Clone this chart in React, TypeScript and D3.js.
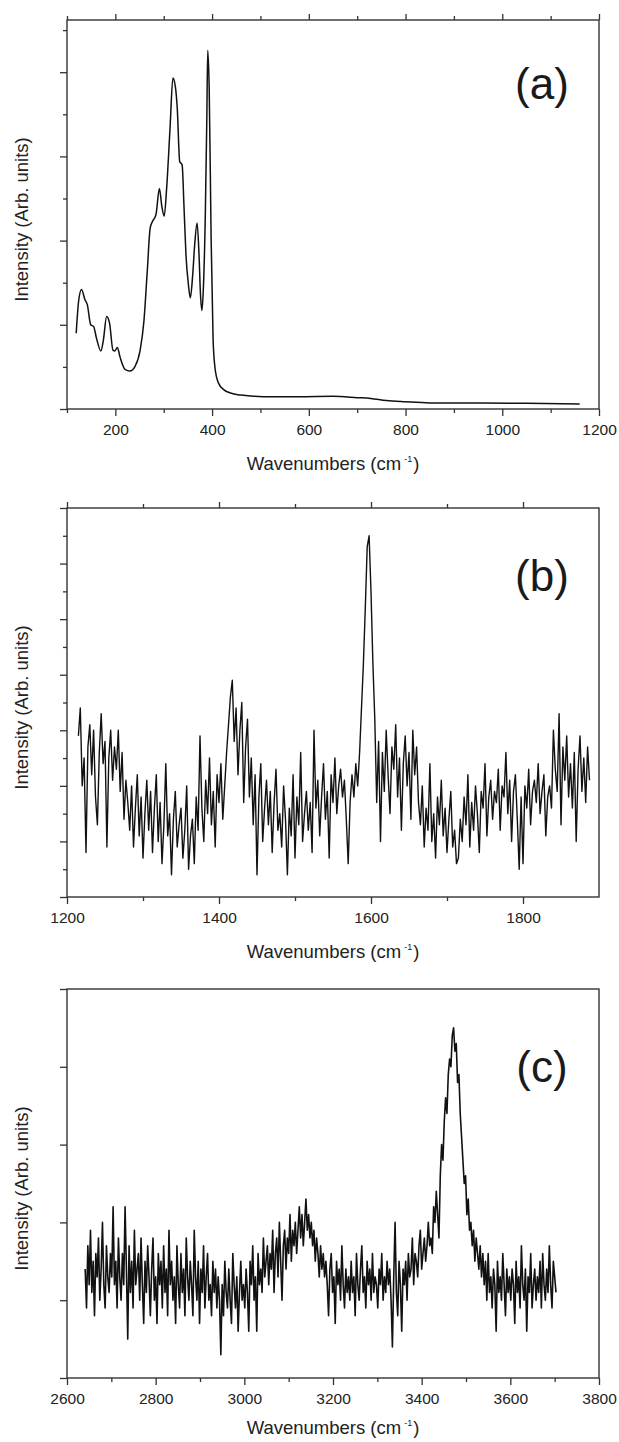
import React, { useEffect, useRef } from 'react';
import * as d3 from 'd3';

// (a) low wavenumber region, smooth spectrum
const aWave = [119, 124, 130, 137, 142, 149, 155, 161, 170, 175, 182, 188, 195, 199, 204, 210, 220, 230, 241, 251,
  259, 266, 272, 277, 284, 291, 296, 301, 306, 313, 319, 324, 328, 333, 338, 342, 346, 351, 355, 360,
  364, 369, 373, 376, 379, 382, 386, 389, 391, 394, 398, 402, 406, 413, 424, 438, 458, 480, 520, 580,
  650, 700, 728, 760, 800, 850, 950, 1050, 1160];
const aInt = [0.90, 1.28, 1.42, 1.30, 1.24, 1.00, 0.98, 0.84, 0.69, 0.81, 1.10, 1.02, 0.70, 0.69, 0.73, 0.61, 0.47, 0.45, 0.51, 0.69,
  1.04, 1.64, 2.15, 2.23, 2.31, 2.62, 2.41, 2.29, 2.62, 3.33, 3.93, 3.83, 3.57, 2.94, 2.90, 2.39, 1.83, 1.48, 1.32, 1.60,
  1.95, 2.21, 1.83, 1.36, 1.17, 1.44, 2.31, 3.41, 4.26, 3.81, 2.03, 0.84, 0.49, 0.31, 0.23, 0.19, 0.165, 0.155, 0.145, 0.145,
  0.15, 0.135, 0.125, 0.10, 0.085, 0.072, 0.07, 0.068, 0.06];

// (b) 1215 - 1887.5 cm-1, sampled every 2.5 cm-1, intensity in tenths
const bStart = 1215;
const bStep = 2.5;
const bInt = [
  29, 34, 20, 25, 8, 27, 31, 22, 30, 18, 13, 26, 33, 24, 28, 9, 25, 30, 21, 27,
  23, 30, 19, 26, 14, 21, 17, 12, 20, 9, 16, 22, 11, 18, 7, 15, 21, 12, 19, 8,
  16, 22, 10, 17, 6, 13, 24, 11, 15, 4, 14, 19, 9, 13, 16, 7, 12, 20, 5, 11,
  14, 6, 18, 12, 29, 16, 10, 21, 15, 25, 13, 19, 9, 22, 17, 24, 14, 20, 26, 31,
  36, 39, 28, 34, 22, 30, 35, 17, 27, 32, 18, 25, 13, 22, 4, 18, 24, 10, 16, 21,
  13, 19, 8, 17, 23, 12, 15, 9, 20, 14, 4, 16, 11, 22, 7, 18, 13, 26, 10, 15,
  19, 12, 17, 8, 30, 16, 21, 11, 18, 24, 14, 19, 7, 22, 17, 25, 15, 20, 23, 18,
  21, 14, 6, 17, 22, 18, 24, 20, 26, 34, 42, 52, 63, 65, 55, 42, 32, 17, 28, 10,
  26, 19, 30, 22, 15, 27, 23, 31, 18, 25, 12, 24, 29, 20, 26, 14, 30, 22, 27, 17,
  13, 20, 9, 16, 12, 24, 10, 15, 7, 18, 13, 21, 11, 16, 8, 14, 19, 9, 12, 6,
  7, 14, 10, 18, 13, 22, 9, 17, 12, 20, 15, 8, 19, 16, 24, 11, 18, 21, 14, 19,
  17, 23, 12, 20, 18, 26, 15, 21, 10, 19, 22, 14, 5, 18, 6, 20, 16, 23, 13, 19,
  21, 17, 24, 15, 19, 22, 11, 18, 20, 16, 30, 23, 19, 33, 13, 27, 21, 29, 18, 24,
  16, 26, 10, 23, 29, 19, 25, 17, 27, 21];

// (c) 2641 - 3703 cm-1, sampled every 3 cm-1, intensity in tenths
const cStart = 2641;
const cStep = 3;
const cInt = [
  14, 9, 17, 12, 19, 11, 15, 8, 16, 13, 18, 10, 14, 20, 12, 9, 17, 13, 11, 16,
  13, 22, 12, 15, 9, 18, 13, 10, 16, 12, 22, 14, 5, 17, 11, 15, 9, 19, 12, 14,
  16, 10, 18, 12, 7, 15, 11, 17, 13, 8, 14, 18, 10, 13, 7, 16, 12, 15, 9, 17,
  11, 14, 8, 19, 12, 15, 10, 13, 7, 17, 12, 9, 16, 11, 14, 8, 18, 13, 10, 15,
  12, 8, 19, 13, 10, 15, 7, 14, 11, 17, 9, 13, 16, 10, 12, 8, 15, 11, 14, 9,
  13, 10, 3, 12, 8, 15, 11, 9, 14, 10, 7, 16, 12, 9, 13, 6, 11, 15, 10, 12,
  9, 14, 11, 6, 15, 12, 17, 10, 13, 6, 16, 12, 14, 11, 18, 13, 15, 17, 12, 16,
  14, 19, 11, 16, 18, 13, 20, 15, 10, 17, 19, 14, 18, 16, 21, 15, 19, 17, 20, 16,
  19, 22, 18, 21, 17, 20, 23, 19, 21, 18, 20, 17, 19, 15, 18, 16, 13, 17, 14, 16,
  13, 15, 12, 8, 14, 16, 11, 13, 7, 15, 12, 14, 10, 17, 12, 9, 14, 11, 13, 10,
  15, 11, 13, 8, 16, 12, 10, 14, 17, 11, 13, 9, 15, 12, 14, 10, 16, 11, 13, 12,
  9, 14, 12, 16, 10, 13, 11, 15, 12, 14, 10, 4, 13, 20, 11, 8, 15, 12, 6, 14,
  12, 15, 10, 16, 13, 14, 18, 12, 16, 15, 13, 17, 19, 14, 16, 18, 15, 17, 20, 17,
  18, 16, 22, 20, 24, 21, 18, 26, 30, 28, 33, 36, 34, 39, 41, 40, 44, 45, 42, 43,
  38, 39, 34, 31, 28, 25, 26, 21, 23, 19, 20, 17, 19, 15, 18, 16, 14, 17, 13, 16,
  12, 15, 10, 16, 11, 13, 9, 14, 12, 6, 15, 11, 13, 10, 16, 12, 8, 14, 11, 13,
  10, 14, 12, 7, 15, 11, 13, 9, 17, 12, 10, 14, 6, 13, 11, 16, 9, 12, 14, 10,
  13, 11, 15, 9, 16, 12, 10, 14, 11, 17, 12, 9, 15, 13, 11];

// tick values
const aMajor = [200, 400, 600, 800, 1000, 1200];
const aMinor = [100, 300, 500, 700, 900, 1100];
const aYMajor = [0, 1, 2, 3, 4];
const aYMinor = [0.5, 1.5, 2.5, 3.5, 4.5];
const bMajor = [1200, 1400, 1600, 1800];
const bMinor = [1300, 1500, 1700];
const bYMajor = [0, 10, 20, 30, 40, 50, 60, 70];
const bYMinor = [5, 15, 25, 35, 45, 55, 65];
const cMajor = [2600, 2800, 3000, 3200, 3400, 3600, 3800];
const cMinor = [2700, 2900, 3100, 3300, 3500, 3700];
const cYMajor = [0, 10, 20, 30, 40, 50];

const W = 619;
const H = 1442;
const LEFT = 67;
const RIGHT = 599;
const FONT = 'Arial, "Liberation Sans", Helvetica, sans-serif';
const AXIS = '#333';

const App = () => {
  const ref = useRef<SVGSVGElement>(null);

  useEffect(() => {
    const svg = d3.select(ref.current);
    svg.selectAll('*').remove();

    const panels = [
      {
        top: 20, bottom: 409, xDomain: [100, 1200], yDomain: [0, 4.62],
        xMajor: aMajor, xMinor: aMinor, yMajor: aYMajor, yMinor: aYMinor, topTicks: true,
        data: aWave.map((w, i) => [w, aInt[i]]), curve: d3.curveMonotoneX, width: 1.5,
        label: '(a)', labelY: 99, titleY: 470,
      },
      {
        top: 508, bottom: 897, xDomain: [1200, 1900], yDomain: [0, 70],
        xMajor: bMajor, xMinor: bMinor, yMajor: bYMajor, yMinor: bYMinor, topTicks: true,
        data: bInt.map((v, i) => [bStart + i * bStep, v]), curve: d3.curveLinear, width: 1.4,
        label: '(b)', labelY: 591, titleY: 958,
      },
      {
        top: 989, bottom: 1378, xDomain: [2600, 3800], yDomain: [0, 50],
        xMajor: cMajor, xMinor: cMinor, yMajor: cYMajor, yMinor: [], topTicks: false,
        data: cInt.map((v, i) => [cStart + i * cStep, v]), curve: d3.curveLinear, width: 1.6,
        label: '(c)', labelY: 1082, titleY: 1434,
      },
    ];

    panels.forEach((p) => {
      const x = d3.scaleLinear().domain(p.xDomain).range([LEFT, RIGHT]);
      const y = d3.scaleLinear().domain(p.yDomain).range([p.bottom, p.top]);
      const g = svg.append('g');

      const styleAxis = (sel) => {
        sel.select('.domain').remove();
        sel.selectAll('line').attr('stroke', AXIS).attr('stroke-width', 1.3);
        sel.selectAll('text').attr('font-family', FONT).attr('font-size', 15.5).attr('fill', '#222');
      };
      const noLabel = () => '';

      // bottom
      g.append('g').attr('transform', `translate(0,${p.bottom})`)
        .call(d3.axisBottom(x).tickValues(p.xMajor).tickSize(7).tickPadding(8).tickFormat(d3.format('d')))
        .call(styleAxis);
      g.append('g').attr('transform', `translate(0,${p.bottom})`)
        .call(d3.axisBottom(x).tickValues(p.xMinor).tickSize(4).tickFormat(noLabel))
        .call(styleAxis);
      // top
      if (p.topTicks) {
        g.append('g').attr('transform', `translate(0,${p.top})`)
          .call(d3.axisTop(x).tickValues(p.xMajor).tickSize(6).tickFormat(noLabel))
          .call(styleAxis);
        g.append('g').attr('transform', `translate(0,${p.top})`)
          .call(d3.axisTop(x).tickValues(p.xMinor).tickSize(4).tickFormat(noLabel))
          .call(styleAxis);
      }
      // left
      g.append('g').attr('transform', `translate(${LEFT},0)`)
        .call(d3.axisLeft(y).tickValues(p.yMajor).tickSize(7).tickFormat(noLabel))
        .call(styleAxis);
      g.append('g').attr('transform', `translate(${LEFT},0)`)
        .call(d3.axisLeft(y).tickValues(p.yMinor).tickSize(4).tickFormat(noLabel))
        .call(styleAxis);

      // frame
      g.append('rect')
        .attr('x', LEFT).attr('y', p.top)
        .attr('width', RIGHT - LEFT).attr('height', p.bottom - p.top)
        .attr('fill', 'none').attr('stroke', AXIS).attr('stroke-width', 1.4);

      // spectrum
      const line = d3.line().x((d) => x(d[0])).y((d) => y(d[1])).curve(p.curve);
      g.append('path')
        .datum(p.data)
        .attr('d', line)
        .attr('fill', 'none')
        .attr('stroke', '#111')
        .attr('stroke-width', p.width)
        .attr('stroke-linejoin', 'round');

      // panel label
      g.append('text')
        .attr('x', 542).attr('y', p.labelY)
        .attr('text-anchor', 'middle')
        .attr('font-family', FONT).attr('font-size', 44).attr('fill', '#1a1a1a')
        .text(p.label);

      // x title
      const t = g.append('text')
        .attr('x', (LEFT + RIGHT) / 2).attr('y', p.titleY)
        .attr('text-anchor', 'middle')
        .attr('font-family', FONT).attr('font-size', 18.5).attr('fill', '#222');
      t.append('tspan').text('Wavenumbers (cm');
      t.append('tspan').attr('dx', 3).attr('dy', -8).attr('font-size', 9).text('-1');
      t.append('tspan').attr('dy', 8).attr('dx', 1).text(')');

      // y title
      g.append('text')
        .attr('transform', `translate(28,${(p.top + p.bottom) / 2 + 5}) rotate(-90)`)
        .attr('text-anchor', 'middle')
        .attr('font-family', FONT).attr('font-size', 18.5).attr('fill', '#222')
        .text('Intensity (Arb. units)');
    });
  }, []);

  return (
    <div>
      <svg ref={ref} width={W} height={H}
        style={{ position: 'absolute', left: 0, top: 0, background: '#fff' }}>
      </svg>
    </div>
  );
};

export default App;
